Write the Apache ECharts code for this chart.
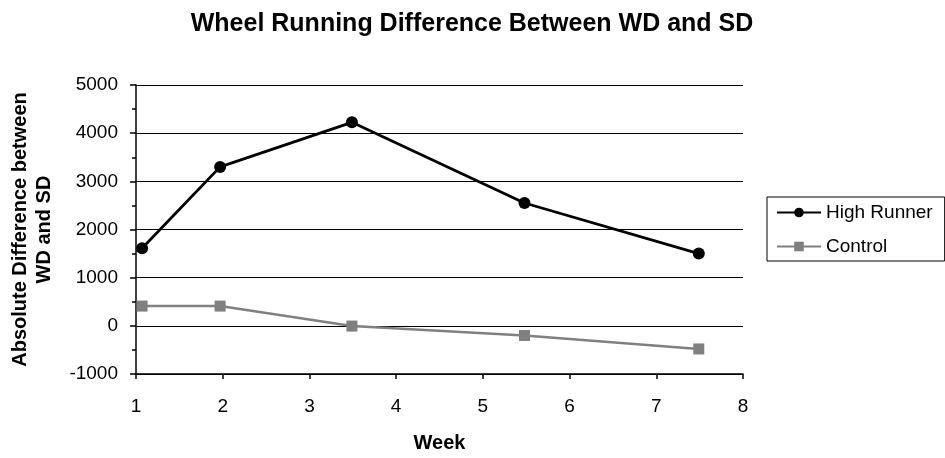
<!DOCTYPE html>
<html>
<head>
<meta charset="utf-8">
<script src="https://cdn.jsdelivr.net/npm/echarts@6/dist/echarts.min.js"></script>
<style>html,body{margin:0;padding:0;background:#fff;}#c{width:945px;height:458px;}</style>
</head>
<body>
<div id="c"></div>
<script>
const titleText = "Wheel Running Difference Between WD and SD";
const xName = "Week";
const yName = "Absolute Difference between\nWD and SD";
const seriesNames = ["High Runner", "Control"];
const weeks = [1.07, 1.97, 3.49, 5.48, 7.49];
const highRunner = [1610, 3300, 4225, 2550, 1500];
const control = [410, 410, -5, -200, -480];

const font = "'Liberation Sans', Arial, sans-serif";
const chart = echarts.init(document.getElementById('c'));
const pair = (xs, ys) => xs.map((x, i) => [x, ys[i]]);
chart.setOption({
  animation: false,
  backgroundColor: '#fff',
  title: {
    text: titleText, left: 467, top: 7, textAlign: 'center',
    textStyle: { fontFamily: font, fontSize: 25, fontWeight: 'bold', color: '#000' }
  },
  grid: { left: 136, right: 202, top: 85, bottom: 82 },
  legend: {
    orient: 'vertical', left: 767, top: 197,
    padding: [6, 12, 5, 9], itemGap: 15,
    borderColor: '#000', borderWidth: 1,
    itemWidth: 44, itemHeight: 12,
    textStyle: { fontFamily: font, fontSize: 19, color: '#000' },
    data: seriesNames
  },
  xAxis: {
    type: 'value', min: 1, max: 8, interval: 1,
    name: xName, nameLocation: 'middle', nameGap: 59,
    nameTextStyle: { fontFamily: font, fontSize: 20, fontWeight: 'bold', color: '#000' },
    axisLine: { show: true, onZero: false, lineStyle: { color: '#000', width: 1.5 } },
    axisTick: { show: true, length: 5, lineStyle: { color: '#000', width: 1.5 } },
    axisLabel: { margin: 23, fontFamily: font, fontSize: 19, color: '#000' },
    splitLine: { show: false }
  },
  yAxis: {
    type: 'value', min: -1000, max: 5000, interval: 1000,
    name: yName, nameLocation: 'middle', nameGap: 80,
    nameTextStyle: { fontFamily: font, fontSize: 20, fontWeight: 'bold', color: '#000', lineHeight: 24 },
    axisLine: { show: true, lineStyle: { color: '#000', width: 1.5 } },
    axisTick: { show: true, length: 6, lineStyle: { color: '#000', width: 1.5 } },
    minorTick: { show: true, splitNumber: 2, length: 4, lineStyle: { color: '#000', width: 1.5 } },
    axisLabel: { margin: 18, fontFamily: font, fontSize: 19, color: '#000', formatter: v => String(v) },
    splitLine: { show: true, lineStyle: { color: '#000', width: 1.2 } }
  },
  series: [
    {
      name: seriesNames[0], type: 'line', data: pair(weeks, highRunner),
      symbol: 'circle', symbolSize: 12,
      lineStyle: { color: '#000', width: 2.8 },
      itemStyle: { color: '#000' }
    },
    {
      name: seriesNames[1], type: 'line', data: pair(weeks, control),
      symbol: 'rect', symbolSize: 11,
      lineStyle: { color: '#808080', width: 2.5 },
      itemStyle: { color: '#808080' }
    }
  ]
});
</script>
</body>
</html>
